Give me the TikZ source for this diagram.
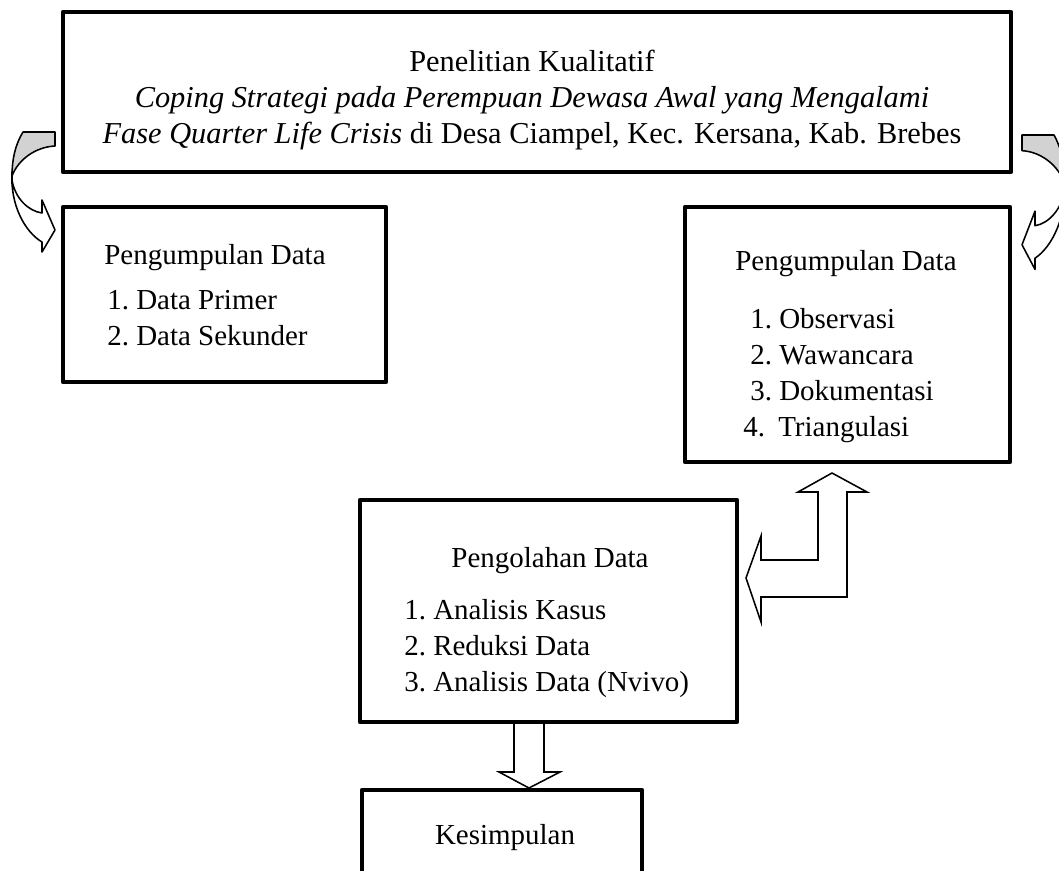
\documentclass[tikz,border=0pt]{standalone}
\usepackage{fontspec}
\setmainfont{Liberation Serif}
\newcommand{\butir}[2]{\makebox[0.725cm][l]{#1}#2}
\newcommand{\panahlengkung}{%
	\filldraw[lengkung, fill=gray!35] (55,132) -- (23,132) .. controls (15,145) and (12,160) .. (12,176) .. controls (18,160) and (35,147) .. (55,146) -- cycle;
	\filldraw[lengkung, fill=white] (12,172) .. controls (10,205) and (25,232) .. (42,242) -- (42,252) -- (55,230) -- (42,200) -- (42,213) .. controls (28,211) and (15,198) .. (12,180) -- cycle;}
\tikzset{
	kotak/.style={draw, line width=3pt, line join=round},
	daftar/.style={anchor=west, align=left, inner sep=0pt},
	blok/.style={draw, line width=1.1pt, line join=miter},
	lengkung/.style={line width=1.1pt, line join=round}
}

\begin{document}
\begin{tikzpicture}[x=0.025cm, y=-0.025cm, every node/.style={font=\fontsize{20.6}{25.6}\selectfont}]
	\useasboundingbox (0,0) rectangle (1059,870);
	\clip (0,0) rectangle (1059,870);
	%
	\node[kotak, minimum width=23.7cm, minimum height=4cm] (penelitian) at (537,92) {};
	\node[align=center, font=\fontsize{21.6}{25.4}\selectfont] (penelitianteks) at (532,100) {Penelitian Kualitatif\\ \textit{Coping Strategi pada Perempuan Dewasa Awal yang Mengalami}\\ \textit{Fase Quarter Life Crisis} di Desa Ciampel, Kec. Kersana, Kab. Brebes};
	\node[kotak, minimum width=8.075cm, minimum height=4.375cm] (kumpul1) at (224.5,294.5) {};
	\node (kumpul1judul) at (215,258) {Pengumpulan Data};
	\node[daftar] (kumpul1isi) at (107,318.5) {\butir{1.}{Data Primer}\\ \butir{2.}{Data Sekunder}};
	\node[kotak, minimum width=8.125cm, minimum height=6.375cm] (kumpul2) at (847.5,334.5) {};
	\node (kumpul2judul) at (846,264) {Pengumpulan Data};
	\node[daftar] (kumpul2isi) at (750,375.5) {\butir{1.}{Observasi}\\ \butir{2.}{Wawancara}\\ \butir{3.}{Dokumentasi}\\ \hspace*{-0.175cm}\makebox[0.875cm][l]{4.}Triangulasi};
	\node[kotak, minimum width=9.425cm, minimum height=5.55cm] (olah) at (548.5,611) {};
	\node (olahjudul) at (550,561) {Pengolahan Data};
	\node[daftar] (olahisi) at (404,649) {\butir{1.}{Analisis Kasus}\\ \butir{2.}{Reduksi Data}\\ \butir{3.}{Analisis Data (Nvivo)}};
	\node[kotak, minimum width=7cm, minimum height=3.25cm] (simpul) at (502,855) {};
	\node (simpulteks) at (505,838) {Kesimpulan};
	%
	\panahlengkung
	\begin{scope}[shift={(1077,135)}, xscale=-1, yscale=1.12, shift={(0,-132)}]
		\panahlengkung
	\end{scope}
	\draw[blok] (832,473) -- (867,492) -- (847,492) -- (847,597) -- (761,597) -- (761,622) -- (746,578) -- (761,536) -- (761,560) -- (818,560) -- (818,492) -- (798,492) -- cycle;
	\draw[blok] (514,722) -- (514,772) -- (499,772) -- (529,788) -- (560,772) -- (544,772) -- (544,722);
\end{tikzpicture}
\end{document}
